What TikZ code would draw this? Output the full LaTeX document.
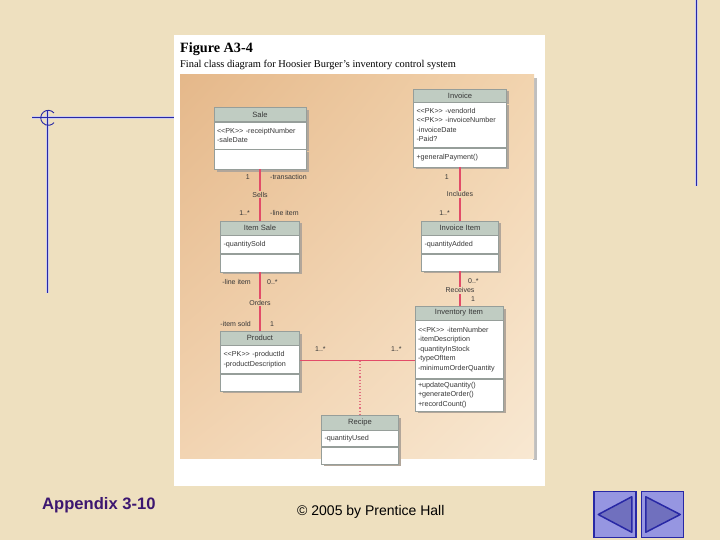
\documentclass[tikz,border=0pt]{standalone}
\usepackage{fontspec}
\setmainfont{Liberation Serif}
\newfontfamily\arialfont{Liberation Sans}
\usetikzlibrary{positioning,shadows,shadings,calc}

\definecolor{parch}{RGB}{238,224,191}
\definecolor{slideblue}{RGB}{40,40,165}
\definecolor{halo}{RGB}{205,205,235}
\definecolor{tanUL}{RGB}{229,184,138}
\definecolor{tanUR}{RGB}{242,212,175}
\definecolor{tanLL}{RGB}{242,212,178}
\definecolor{tanLR}{RGB}{248,232,210}
\definecolor{bgSells}{RGB}{235,198,158}
\definecolor{bgIncl}{RGB}{242,213,178}
\definecolor{bgOrders}{RGB}{239,206,169}
\definecolor{bgRecv}{RGB}{243,218,188}
\definecolor{hdrfill}{RGB}{192,204,194}
\definecolor{boxline}{RGB}{150,158,154}
\definecolor{shadowc}{RGB}{178,166,154}
\definecolor{txt}{RGB}{55,55,55}
\definecolor{assocred}{RGB}{226,76,104}
\definecolor{dotred}{RGB}{225,110,128}
\definecolor{btnfill}{RGB}{150,150,225}
\definecolor{btntri}{RGB}{112,112,190}
\definecolor{appx}{RGB}{60,22,112}

\begin{document}
\begin{tikzpicture}[x=1pt, y=-1pt, node distance=0pt,
    shd/.style={drop shadow={shadow xshift=2.5pt, shadow yshift=-2.5pt, fill=shadowc, opacity=1}},
    hdr/.style={draw=boxline, fill=hdrfill, shd, minimum width=#1, minimum height=14pt,
        inner sep=1pt, text=txt, font=\arialfont\fontsize{7.6}{8}\selectfont},
    cmp/.style 2 args={draw=boxline, fill=white, shd, minimum width=#1pt, minimum height=#2pt,
        text width=#1pt-6pt, inner sep=3pt, align=left, text=txt,
        font=\arialfont\fontsize{7.2}{9.5}\selectfont},
    assoc/.style={draw=assocred, line width=1.25pt},
    lbl/.style={inner sep=1pt, text=txt, font=\arialfont\fontsize{7}{8}\selectfont},
    role/.style={lbl, fill=#1}
]
\useasboundingbox (0,0) rectangle (720,540);
\fill[parch] (0,0) rectangle (720,540);

% slide rules
\draw[halo, line width=3pt] (32,118) -- (174,118) (47,110) -- (47,293) (696,0) -- (696,186);
\draw[slideblue, line width=1pt] (32,118) -- (174,118) (47,110) -- (47,293) (696,0) -- (696,186);
\draw[slideblue, line width=0.9pt] (54,113) arc (-40:-320:7.5);

% figure page
\fill[white] (174,35) rectangle (545,486);
\node[anchor=base west, inner sep=0pt, font=\bfseries\fontsize{14.2}{16}\selectfont] (fig) at (180,53) {Figure A3-4};
\node[anchor=base west, inner sep=0pt, font=\fontsize{10.4}{12}\selectfont] (cap) at (180,67.5)
    {Final class diagram for Hoosier Burger's inventory control system};
\fill[black!25] (533,78) rectangle (537,460);
\shade[upper left=tanUL, upper right=tanUR, lower left=tanLL, lower right=tanLR] (180,75) rectangle (534,458);

% classes
\node[hdr=92pt] (sale) at (260,114.5) {Sale};
\node[cmp={92}{27}, below=of sale] (sale-att) {<<PK>> -receiptNumber\\-saleDate};
\node[cmp={92}{20}, below=of sale-att] (sale-op) {};

\node[hdr=93pt, minimum height=13pt] (invoice) at (460,95.5) {Invoice};
\node[cmp={93}{45}, below=of invoice] (invoice-att)
    {<<PK>> -vendorId\\<<PK>> -invoiceNumber\\-invoiceDate\\-Paid?};
\node[cmp={93}{19}, below=of invoice-att] (invoice-op) {+generalPayment()};

\node[hdr=79pt] (itemsale) at (260,228) {Item Sale};
\node[cmp={79}{18}, below=of itemsale] (itemsale-att) {-quantitySold};
\node[cmp={79}{18}, below=of itemsale-att] (itemsale-op) {};

\node[hdr=77pt] (invitem) at (460,228) {Invoice Item};
\node[cmp={77}{18}, below=of invitem] (invitem-att) {-quantityAdded};
\node[cmp={77}{17}, below=of invitem-att] (invitem-op) {};

\node[hdr=79pt] (product) at (260,338) {Product};
\node[cmp={79}{28}, below=of product] (product-att) {<<PK>> -productId\\-productDescription};
\node[cmp={79}{17}, below=of product-att] (product-op) {};

\node[hdr=88pt] (stock) at (459,313) {Inventory Item};
\node[cmp={88}{58}, below=of stock] (stock-att)
    {<<PK>> -itemNumber\\-itemDescription\\-quantityInStock\\-typeOfItem\\-minimumOrderQuantity};
\node[cmp={88}{32}, below=of stock-att] (stock-op) {+updateQuantity()\\+generateOrder()\\+recordCount()};

\node[hdr=77pt, minimum height=15pt] (recipe) at (360,422.5) {Recipe};
\node[cmp={77}{16}, below=of recipe] (recipe-att) {-quantityUsed};
\node[cmp={77}{17}, below=of recipe-att] (recipe-op) {};

% associations
\coordinate (link) at ($(recipe.north |- product-att.east)+(0,1.5)$);
\draw[assoc] (sale-op.south) -- (sale-op.south |- itemsale.north);
\draw[assoc] (invoice-op.south) -- (invoice-op.south |- invitem.north);
\draw[assoc] (itemsale-op.south) -- (itemsale-op.south |- product.north);
\draw[assoc] (invitem-op.south) -- (invitem-op.south |- stock.north);
\draw[assoc] ($(product-att.east)+(0,1)$) -- ($(product-att.east -| stock-att.west)+(0,1)$);
\draw[dotred, line width=1.1pt, dotted] (link) -- (recipe.north);

\path (sale-op.south) -- (sale-op.south |- itemsale.north)
    node[lbl, pos=.15, left=9pt] (sells-m1) {1}
    node[lbl, pos=.15, right=9pt] (sells-r1) {-transaction}
    node[role=bgSells, pos=.49] (sells) {Sells}
    node[lbl, pos=.85, left=9pt] (sells-m2) {1..*}
    node[lbl, pos=.85, right=9pt] (sells-r2) {-line item};
\path (invoice-op.south) -- (invoice-op.south |- invitem.north)
    node[lbl, pos=.18, left=10pt] (incl-m1) {1}
    node[role=bgIncl, pos=.51] (incl) {Includes}
    node[lbl, pos=.85, left=9pt] (incl-m2) {1..*};
\path (itemsale-op.south) -- (itemsale-op.south |- product.north)
    node[lbl, pos=.17, left=8pt] (ord-r1) {-line item}
    node[lbl, pos=.17, right=6pt] (ord-m1) {0..*}
    node[role=bgOrders, pos=.52] (orders) {Orders}
    node[lbl, pos=.88, left=8pt] (ord-r2) {-item sold}
    node[lbl, pos=.88, right=9pt] (ord-m2) {1};
\path (invitem-op.south) -- (invitem-op.south |- stock.north)
    node[lbl, pos=.3, right=7pt] (rec-m1) {0..*}
    node[role=bgRecv, pos=.56] (receives) {Receives}
    node[lbl, pos=.8, right=10pt] (rec-m2) {1};
\path (product-att.east) -- (product-att.east -| stock-att.west)
    node[lbl, pos=.18, above=7pt] (made-m1) {1..*}
    node[lbl, pos=.84, above=7pt] (made-m2) {1..*};

% footer
\node[anchor=base west, inner sep=0pt, text=appx, font=\arialfont\bfseries\fontsize{16.6}{18}\selectfont] (appendix) at (42,509) {Appendix 3-10};
\node[anchor=base west, inner sep=0pt, font=\arialfont\fontsize{14}{16}\selectfont] (copy) at (297,515) {© 2005 by Prentice Hall};

% navigation buttons
\node[draw=slideblue, fill=btnfill, line width=1.5pt, minimum width=42pt, minimum height=46pt, inner sep=0pt] (prev) at (615,514.5) {};
\node[draw=slideblue, fill=btnfill, line width=1.5pt, minimum width=42pt, minimum height=46pt, inner sep=0pt] (next) at (662.5,514.5) {};
\draw[slideblue, fill=btntri, line width=1.5pt, line join=round] ($(prev.west)+(5,0)$) -- ($(prev.north east)+(-5,6)$) -- ($(prev.south east)+(-5,-6)$) -- cycle;
\draw[slideblue, fill=btntri, line width=1.5pt, line join=round] ($(next.east)+(-4,0)$) -- ($(next.north west)+(5,6)$) -- ($(next.south west)+(5,-6)$) -- cycle;
\end{tikzpicture}
\end{document}
